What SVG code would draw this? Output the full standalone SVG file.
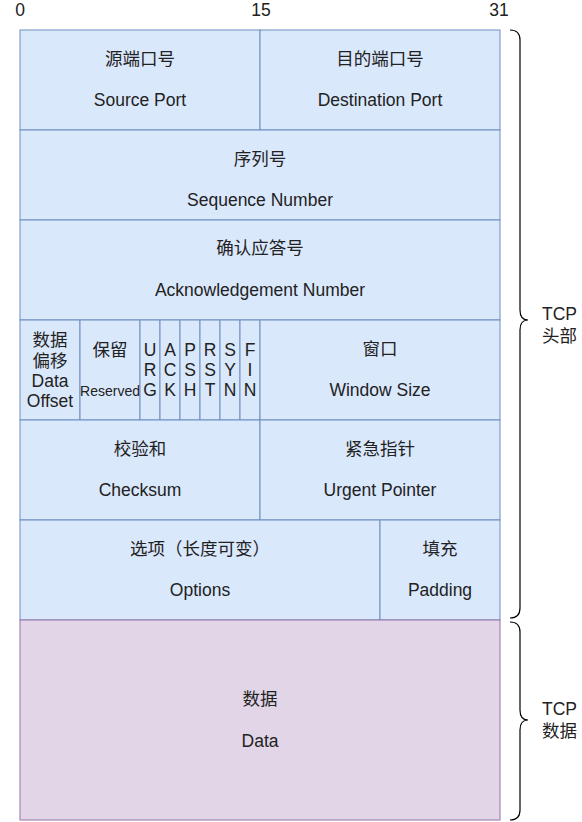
<svg xmlns="http://www.w3.org/2000/svg" width="582" height="822" viewBox="0 0 582 822">
<style>
text{font-family:"Liberation Sans","Noto Sans CJK SC",sans-serif;font-size:17.5px;fill:#222;text-anchor:middle;dominant-baseline:central}
.h{fill:#dae8fc;stroke:#6c8ebf;stroke-width:1}
.d{fill:#e1d5e7;stroke:#9673a6;stroke-width:1}
.sm{font-size:14px}
.l{text-anchor:start}
.br{fill:none;stroke:#000;stroke-width:1.2}
</style>
<rect width="582" height="822" fill="#fff"/>
<g id="scale">
<text x="20" y="10">0</text>
<text x="261" y="10">15</text>
<text x="499" y="10">31</text>
</g>
<g id="src-port"><rect class="h" x="20" y="30" width="240" height="100"/><text x="140" y="59">源端口号</text><text x="140" y="100">Source Port</text></g>
<g id="dst-port"><rect class="h" x="260" y="30" width="240" height="100"/><text x="380" y="59">目的端口号</text><text x="380" y="100">Destination Port</text></g>
<g id="seq"><rect class="h" x="20" y="130" width="480" height="90"/><text x="260" y="159">序列号</text><text x="260" y="200">Sequence Number</text></g>
<g id="ack"><rect class="h" x="20" y="220" width="480" height="100"/><text x="260" y="248">确认应答号</text><text x="260" y="290">Acknowledgement Number</text></g>
<g id="offset"><rect class="h" x="20" y="320" width="60" height="100"/><text x="50" y="340">数据</text><text x="50" y="360.5">偏移</text><text x="50" y="381">Data</text><text x="50" y="401">Offset</text></g>
<g id="reserved"><rect class="h" x="80" y="320" width="60" height="100"/><text x="110" y="350">保留</text><text x="110" y="391" class="sm">Reserved</text></g>
<g id="urg"><rect class="h" x="140" y="320" width="20" height="100"/><text x="150" y="350">U</text><text x="150" y="370">R</text><text x="150" y="390">G</text></g>
<g id="ackf"><rect class="h" x="160" y="320" width="20" height="100"/><text x="170" y="350">A</text><text x="170" y="370">C</text><text x="170" y="390">K</text></g>
<g id="psh"><rect class="h" x="180" y="320" width="20" height="100"/><text x="190" y="350">P</text><text x="190" y="370">S</text><text x="190" y="390">H</text></g>
<g id="rst"><rect class="h" x="200" y="320" width="20" height="100"/><text x="210" y="350">R</text><text x="210" y="370">S</text><text x="210" y="390">T</text></g>
<g id="syn"><rect class="h" x="220" y="320" width="20" height="100"/><text x="230" y="350">S</text><text x="230" y="370">Y</text><text x="230" y="390">N</text></g>
<g id="fin"><rect class="h" x="240" y="320" width="20" height="100"/><text x="250" y="350">F</text><text x="250" y="370">I</text><text x="250" y="390">N</text></g>
<g id="window"><rect class="h" x="260" y="320" width="240" height="100"/><text x="380" y="349">窗口</text><text x="380" y="390">Window Size</text></g>
<g id="checksum"><rect class="h" x="20" y="420" width="240" height="100"/><text x="140" y="449">校验和</text><text x="140" y="490">Checksum</text></g>
<g id="urgent"><rect class="h" x="260" y="420" width="240" height="100"/><text x="380" y="449">紧急指针</text><text x="380" y="490">Urgent Pointer</text></g>
<g id="options"><rect class="h" x="20" y="520" width="360" height="100"/><text x="200" y="549">选项（长度可变）</text><text x="200" y="590">Options</text></g>
<g id="padding"><rect class="h" x="380" y="520" width="120" height="100"/><text x="440" y="549">填充</text><text x="440" y="590">Padding</text></g>
<g id="data"><rect class="d" x="20" y="620" width="480" height="200"/><text x="260" y="699">数据</text><text x="260" y="741">Data</text></g>
<g id="connectors">
<path class="br" d="M510,30 Q520,30 520,40 L520,310 Q520,320 528,320 Q520,320 520,330 L520,608 Q520,618 510,618"/>
<path class="br" d="M510,622 Q520,622 520,632 L520,710 Q520,720 528,720 Q520,720 520,730 L520,810 Q520,820 510,820"/>
</g>
<g id="labels">
<text class="l" x="542" y="314">TCP</text><text class="l" x="542" y="336">头部</text>
<text class="l" x="542" y="709">TCP</text><text class="l" x="542" y="731">数据</text>
</g>
</svg>
